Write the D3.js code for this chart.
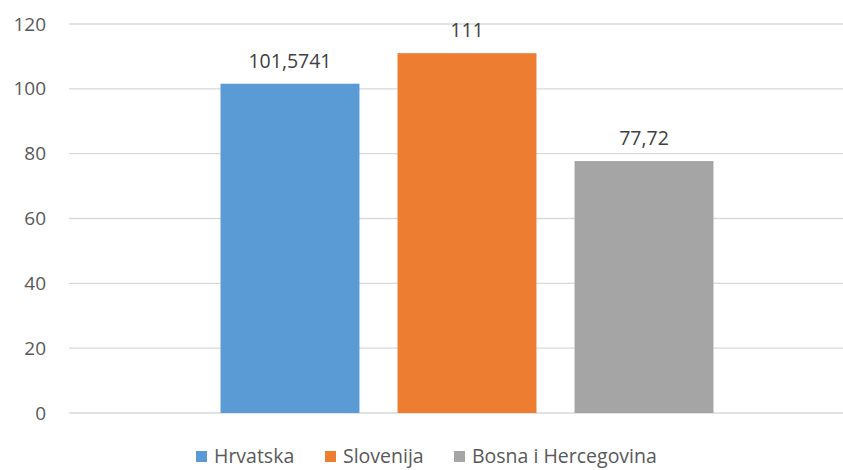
<!DOCTYPE html>
<html><head><meta charset="utf-8">
<script src="https://cdn.jsdelivr.net/npm/d3@7"></script>
<style>body{margin:0;background:#fff;} svg{display:block;}</style>
</head><body>
<svg id="chart" width="843" height="470"></svg>
<script>
const categories = ["Kategorija"];
const series = ["Hrvatska", "Slovenija", "Bosna i Hercegovina"];
const values = [101.5741, 111, 77.72];
const labels = ["101,5741", "111", "77,72"];
const colors = ["#5B9BD5", "#ED7D31", "#A5A5A5"];
const yTicks = [0, 20, 40, 60, 80, 100, 120];

const svg = d3.select("#chart");
const W = 843;
const font = "'Open Sans', 'DejaVu Sans', sans-serif";

const y = d3.scaleLinear().domain([0, 120]).range([413, 24]);
const xOuter = d3.scaleBand().domain(categories).range([69, 865]).paddingInner(0).paddingOuter(0.2495);
const xInner = d3.scaleBand().domain(series).range([0, xOuter.bandwidth()]).paddingInner(0.215).paddingOuter(0.1075);

// gridlines
svg.append("g").selectAll("line").data(yTicks).join("line")
  .attr("x1", 69).attr("x2", W)
  .attr("y1", d => y(d)).attr("y2", d => y(d))
  .attr("stroke", "#d9d9d9").attr("stroke-width", 1.3);

// y axis labels
const yAxis = d3.axisLeft(y).tickValues(yTicks).tickSize(0).tickPadding(0);
const ga = svg.append("g").attr("transform", "translate(46,0)").call(yAxis);
ga.select(".domain").remove();
ga.selectAll("text").attr("font-family", font).attr("font-size", 19).attr("fill", "#595959");

// bars
const data = series.map((s, i) => ({s, v: values[i], l: labels[i], c: colors[i]}));
const g = svg.append("g").attr("transform", `translate(${xOuter(categories[0])},0)`);
g.selectAll("rect").data(data).join("rect")
  .attr("x", d => xInner(d.s)).attr("width", xInner.bandwidth())
  .attr("y", d => y(d.v)).attr("height", d => y(0) - y(d.v))
  .attr("fill", d => d.c);
g.selectAll("text").data(data).join("text")
  .attr("x", d => xInner(d.s) + xInner.bandwidth() / 2)
  .attr("y", d => y(d.v) - 16)
  .attr("text-anchor", "middle")
  .attr("font-family", font).attr("font-size", 19.5).attr("fill", "#404040")
  .text(d => d.l);

// legend
const legendX = [196, 325, 454];
const lg = svg.append("g");
data.forEach((d, i) => {
  lg.append("rect").attr("x", legendX[i]).attr("y", 451).attr("width", 11).attr("height", 11).attr("fill", d.c);
  lg.append("text").attr("x", legendX[i] + 18).attr("y", 463)
    .attr("font-family", font).attr("font-size", 19.5).attr("fill", "#595959").text(d.s);
});
</script>
</body></html>
